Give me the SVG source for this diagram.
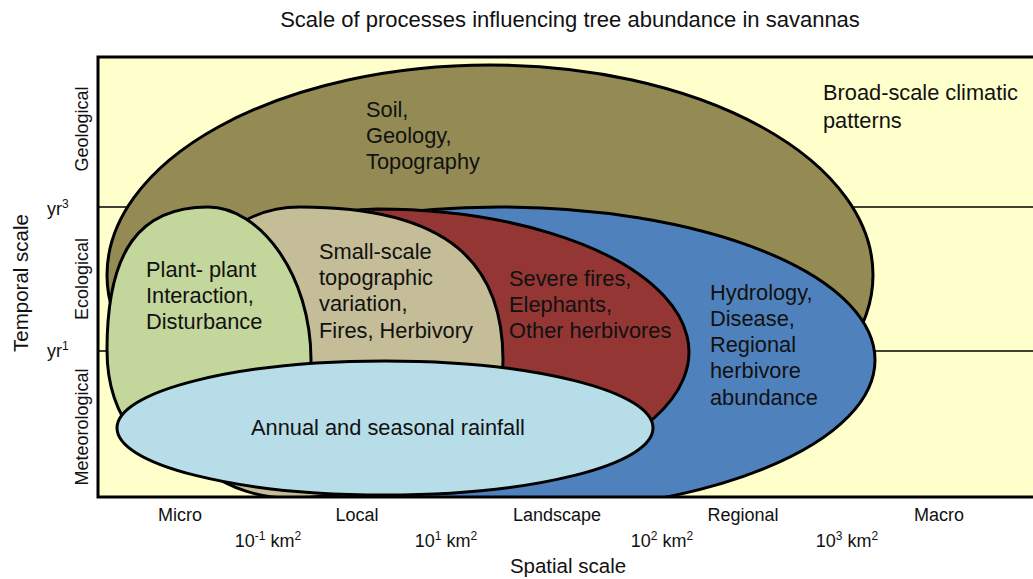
<svg xmlns="http://www.w3.org/2000/svg" width="1033" height="579" viewBox="0 0 1033 579">
<defs>
<style>
text{font-family:"Liberation Sans",Arial,sans-serif;fill:#111}
.title{font-size:22px}
.body{font-size:21.8px}
.axis{font-size:20.5px}
.tick{font-size:18px}
.blob{stroke:#000;stroke-width:3}
.grid{stroke:#000;stroke-width:1.3}
</style>
<clipPath id="fc"><rect x="98" y="57" width="940" height="440"/></clipPath>
</defs>
<rect width="1033" height="579" fill="#fff"/>
<text class="title" x="570" y="27" text-anchor="middle">Scale of processes influencing tree abundance in savannas</text>
<g id="frame">
<rect x="98" y="57" width="940" height="440" fill="#FFFFCC"/>
<line class="grid" x1="98" y1="207" x2="1033" y2="207"/>
<line class="grid" x1="98" y1="351" x2="1033" y2="351"/>
</g>
<g clip-path="url(#fc)">
<g id="soil">
<ellipse class="blob" cx="490" cy="275" rx="383" ry="210" fill="#948A54"/>
<text class="body"><tspan x="366" y="117">Soil,</tspan><tspan x="366" y="143">Geology,</tspan><tspan x="366" y="169">Topography</tspan></text>
</g>
<g id="hydrology">
<ellipse class="blob" cx="500" cy="360" rx="375" ry="153" fill="#4F81BD"/>
<text class="body"><tspan x="710" y="300">Hydrology,</tspan><tspan x="710" y="326">Disease,</tspan><tspan x="710" y="352">Regional</tspan><tspan x="710" y="378">herbivore</tspan><tspan x="710" y="405">abundance</tspan></text>
</g>
<g id="fires">
<path class="blob" d="M190,452 L190,300 C230,230 300,211 377,209 A312 143 0 0 1 600,452 Z" fill="#943634"/>
<text class="body"><tspan x="509" y="286">Severe fires,</tspan><tspan x="509" y="312">Elephants,</tspan><tspan x="509" y="338">Other herbivores</tspan></text>
</g>
<g id="smallscale">
<path class="blob" d="M170,400 C170,280 220,207 300,207 C450,207 503,265 503,360 C503,440 400,498 290,498 C230,498 170,460 170,400 Z" fill="#C4BD97"/>
<text class="body"><tspan x="319" y="259">Small-scale</tspan><tspan x="319" y="285">topographic</tspan><tspan x="319" y="311">variation,</tspan><tspan x="319" y="338">Fires, Herbivory</tspan></text>
</g>
<g id="plantplant">
<path class="blob" d="M107,350 C107,250 140,207 208,207 C260,207 311,275 311,360 C311,430 260,470 210,470 C150,470 107,420 107,350 Z" fill="#C3D69B"/>
<text class="body"><tspan x="146" y="277">Plant- plant</tspan><tspan x="146" y="303">Interaction,</tspan><tspan x="146" y="329">Disturbance</tspan></text>
</g>
<g id="rainfall">
<ellipse class="blob" cx="385" cy="428" rx="268" ry="67" fill="#B7DEE8"/>
<text class="body" x="388" y="435" text-anchor="middle">Annual and seasonal rainfall</text>
</g>
</g>
<rect x="98" y="57" width="940" height="440" fill="none" stroke="#000" stroke-width="3"/>
<g id="climatic">
<text class="body"><tspan x="823" y="100">Broad-scale climatic</tspan><tspan x="823" y="128">patterns</tspan></text>
</g>
<g id="temporal-axis">
<text class="axis" transform="translate(28,283) rotate(-90)" text-anchor="middle">Temporal scale</text>
<text class="tick" transform="translate(88,129) rotate(-90)" text-anchor="middle">Geological</text>
<text class="tick" transform="translate(88,279) rotate(-90)" text-anchor="middle">Ecological</text>
<text class="tick" transform="translate(88,427) rotate(-90)" text-anchor="middle">Meteorological</text>
<text class="tick" x="47" y="215">yr<tspan dy="-7" font-size="12">3</tspan></text>
<text class="tick" x="47" y="357">yr<tspan dy="-7" font-size="12">1</tspan></text>
</g>
<g id="spatial-axis">
<text class="tick" x="180" y="521" text-anchor="middle">Micro</text>
<text class="tick" x="357" y="521" text-anchor="middle">Local</text>
<text class="tick" x="557" y="521" text-anchor="middle">Landscape</text>
<text class="tick" x="743" y="521" text-anchor="middle">Regional</text>
<text class="tick" x="939" y="521" text-anchor="middle">Macro</text>
<text class="tick" x="268" y="547" text-anchor="middle">10<tspan dy="-7" font-size="12">-1</tspan><tspan dy="7"> km</tspan><tspan dy="-7" font-size="12">2</tspan></text>
<text class="tick" x="446" y="547" text-anchor="middle">10<tspan dy="-7" font-size="12">1</tspan><tspan dy="7"> km</tspan><tspan dy="-7" font-size="12">2</tspan></text>
<text class="tick" x="662" y="547" text-anchor="middle">10<tspan dy="-7" font-size="12">2</tspan><tspan dy="7"> km</tspan><tspan dy="-7" font-size="12">2</tspan></text>
<text class="tick" x="847" y="547" text-anchor="middle">10<tspan dy="-7" font-size="12">3</tspan><tspan dy="7"> km</tspan><tspan dy="-7" font-size="12">2</tspan></text>
<text class="axis" x="568" y="573" text-anchor="middle" font-size="21px">Spatial scale</text>
</g>
</svg>
